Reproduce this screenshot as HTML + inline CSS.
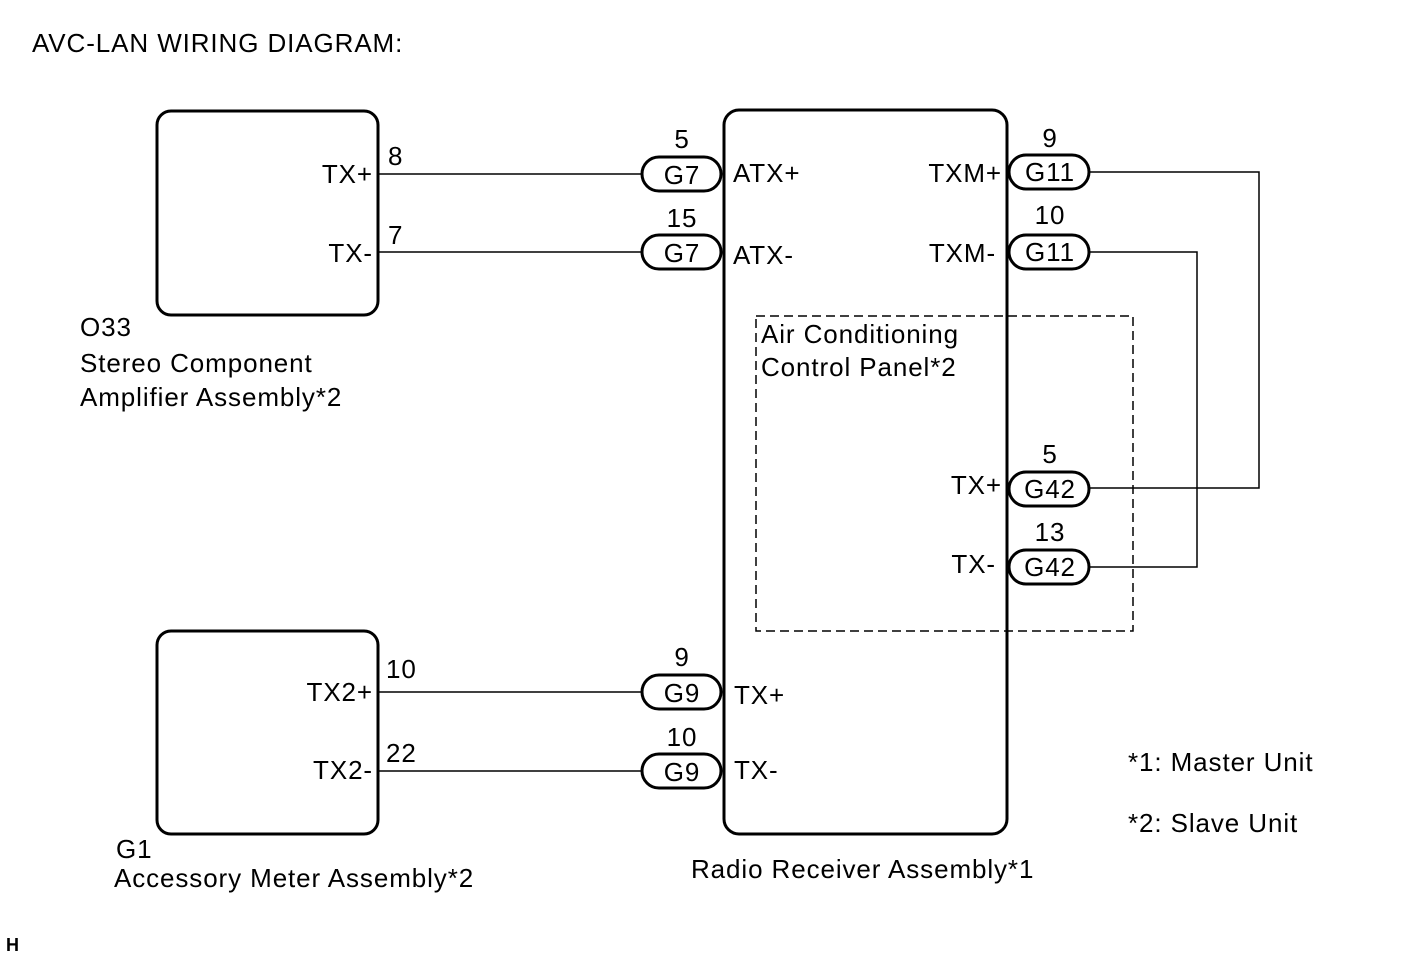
<!DOCTYPE html>
<html><head><meta charset="utf-8"><style>
html,body{margin:0;padding:0;background:#fff;}
svg text{font-family:"Liberation Sans",Arial,sans-serif;fill:#000;letter-spacing:0.9px;}
</style></head><body>
<svg width="1421" height="957" viewBox="0 0 1421 957" xmlns="http://www.w3.org/2000/svg">
<g font-size="26">
<text x="32" y="52">AVC-LAN WIRING DIAGRAM:</text>
</g>
<g fill="none" stroke="#000" stroke-width="3">
<rect x="157" y="111" width="221" height="204" rx="14"/>
<rect x="157" y="631" width="221" height="203" rx="14"/>
<rect x="724" y="110" width="283" height="724" rx="15"/>
<rect x="642" y="157" width="79" height="34" rx="17"/>
<rect x="642" y="235" width="79" height="34" rx="17"/>
<rect x="642" y="675" width="79" height="34" rx="17"/>
<rect x="642" y="754" width="79" height="34" rx="17"/>
<rect x="1009" y="155" width="80" height="34" rx="17"/>
<rect x="1009" y="235" width="80" height="34" rx="17"/>
<rect x="1009" y="472" width="80" height="34" rx="17"/>
<rect x="1009" y="550" width="80" height="34" rx="17"/>
</g>
<g fill="none" stroke="#000" stroke-width="1.5">
<line x1="378" y1="174" x2="642" y2="174"/>
<line x1="378" y1="252" x2="642" y2="252"/>
<line x1="378" y1="692" x2="642" y2="692"/>
<line x1="378" y1="771" x2="642" y2="771"/>
<polyline points="1089,172 1259,172 1259,488 1089,488"/>
<polyline points="1089,252 1197,252 1197,567 1089,567"/>
<rect x="756" y="316" width="377" height="315" stroke-dasharray="9,5"/>
</g>
<g font-size="26">
<text x="373" y="183" text-anchor="end">TX+</text>
<text x="373" y="262" text-anchor="end">TX-</text>
<text x="388" y="165">8</text>
<text x="388" y="244">7</text>
<text x="80" y="336">O33</text>
<text x="80" y="372">Stereo Component</text>
<text x="80" y="406">Amplifier Assembly*2</text>
<text x="373" y="701" text-anchor="end">TX2+</text>
<text x="373" y="779" text-anchor="end">TX2-</text>
<text x="386" y="678">10</text>
<text x="386" y="762">22</text>
<text x="116" y="858">G1</text>
<text x="114" y="887">Accessory Meter Assembly*2</text>
<text x="682" y="148" text-anchor="middle">5</text>
<text x="682" y="227" text-anchor="middle">15</text>
<text x="682" y="666" text-anchor="middle">9</text>
<text x="682" y="746" text-anchor="middle">10</text>
<text x="682" y="184" text-anchor="middle">G7</text>
<text x="682" y="262" text-anchor="middle">G7</text>
<text x="682" y="702" text-anchor="middle">G9</text>
<text x="682" y="781" text-anchor="middle">G9</text>
<text x="733" y="182">ATX+</text>
<text x="733" y="264">ATX-</text>
<text x="734" y="704">TX+</text>
<text x="734" y="779">TX-</text>
<text x="1002" y="182" text-anchor="end">TXM+</text>
<text x="996" y="262" text-anchor="end">TXM-</text>
<text x="1002" y="494" text-anchor="end">TX+</text>
<text x="996" y="573" text-anchor="end">TX-</text>
<text x="1050" y="147" text-anchor="middle">9</text>
<text x="1050" y="224" text-anchor="middle">10</text>
<text x="1050" y="463" text-anchor="middle">5</text>
<text x="1050" y="541" text-anchor="middle">13</text>
<text x="1050" y="181" text-anchor="middle">G11</text>
<text x="1050" y="261" text-anchor="middle">G11</text>
<text x="1050" y="498" text-anchor="middle">G42</text>
<text x="1050" y="576" text-anchor="middle">G42</text>
<text x="761" y="343">Air Conditioning</text>
<text x="761" y="376">Control Panel*2</text>
<text x="691" y="878">Radio Receiver Assembly*1</text>
<text x="1128" y="771">*1: Master Unit</text>
<text x="1128" y="832">*2: Slave Unit</text>
</g>
<text x="6" y="951" font-size="18" font-weight="bold">H</text>
</svg>
</body></html>
